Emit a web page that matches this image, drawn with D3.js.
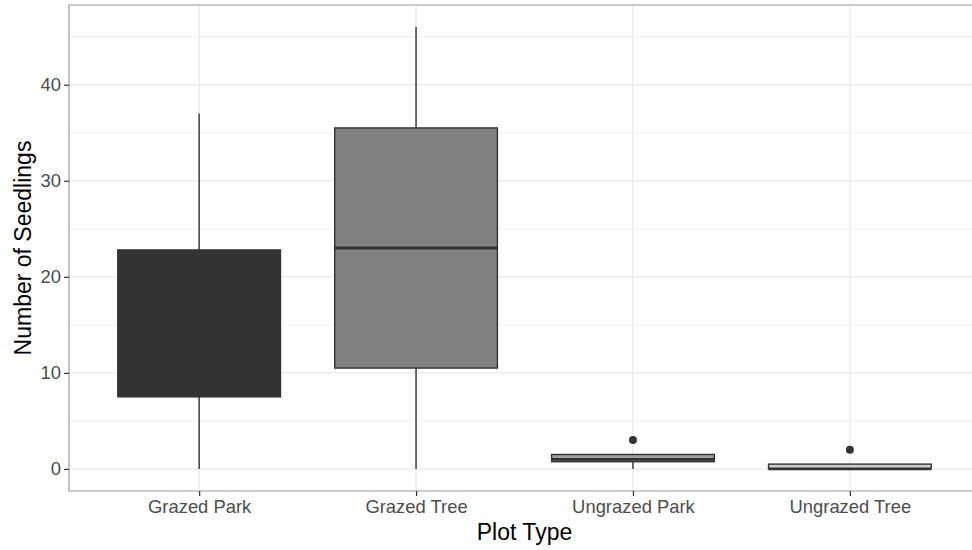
<!DOCTYPE html>
<html lang="en">
<head>
    <meta charset="UTF-8">
    <title>Seedlings by Plot Type</title>
    <script src="https://d3js.org/d3.v7.min.js"></script>
    <style>
        html, body {
            margin: 0;
            overflow: hidden;
            background: #fff;
            font-family: "Liberation Sans", Arial, sans-serif;
        }
        svg {
            display: block;
        }
        .tick text {
            fill: #4d4d4d;
            font-size: 18.4px;
            font-family: "Liberation Sans", Arial, sans-serif;
        }
        .axis-title {
            fill: #000;
            font-size: 23px;
        }
    </style>
</head>
<body>
    <svg id="chart" width="972" height="550"></svg>
    <script>
        // Box statistics
        const categories = ["Grazed Park", "Grazed Tree", "Ungrazed Park", "Ungrazed Tree"];
        const lowerWhisker = [0, 0, 0, 0];
        const q1Values = [7.5, 10.5, 0.75, 0];
        const medians = [15, 23, 1, 0];
        const q3Values = [22.8, 35.5, 1.5, 0.5];
        const upperWhisker = [37, 46, 1.5, 0.5];
        const outliers = [[], [], [3], [2]];
        const yTicks = [0, 10, 20, 30, 40];
        const yMinor = [5, 15, 25, 35, 45];

        const boxes = categories.map((c, i) => ({
            cat: c,
            lo: lowerWhisker[i], q1: q1Values[i], med: medians[i],
            q3: q3Values[i], hi: upperWhisker[i], out: outliers[i]
        }));

        // Panel placement (the right edge runs past the picture)
        const panel = { left: 69, right: 980, top: 5, bottom: 491 };

        const svg = d3.select("#chart");

        // discrete axis with ggplot-style 0.6 expansion each side
        const x = d3.scalePoint()
            .domain(categories)
            .range([panel.left, panel.right])
            .padding(0.6);
        const boxW = x.step() * 0.75;

        const y = d3.scaleLinear()
            .domain([-2.3, 48.3])
            .range([panel.bottom, panel.top]);

        const fill = d3.scaleOrdinal()
            .domain(categories)
            .range(["#333333", "#818181", "#a0a0a0", "#cccccc"]);

        svg.append("clipPath").attr("id", "panelClip")
            .append("rect")
            .attr("x", panel.left).attr("y", panel.top)
            .attr("width", panel.right - panel.left)
            .attr("height", panel.bottom - panel.top);

        const g = svg.append("g").attr("clip-path", "url(#panelClip)");

        // grid
        g.selectAll(".minor").data(yMinor).enter().append("line")
            .attr("x1", panel.left).attr("x2", panel.right)
            .attr("y1", d => y(d)).attr("y2", d => y(d))
            .attr("stroke", "#ebebeb").attr("stroke-width", 0.8);
        g.selectAll(".major").data(yTicks).enter().append("line")
            .attr("x1", panel.left).attr("x2", panel.right)
            .attr("y1", d => y(d)).attr("y2", d => y(d))
            .attr("stroke", "#ebebeb").attr("stroke-width", 1.5);
        g.selectAll(".vmajor").data(categories).enter().append("line")
            .attr("x1", d => x(d)).attr("x2", d => x(d))
            .attr("y1", panel.top).attr("y2", panel.bottom)
            .attr("stroke", "#ebebeb").attr("stroke-width", 1.5);

        // boxplots
        const bx = g.selectAll(".box").data(boxes).enter().append("g");

        bx.append("line")
            .attr("x1", d => x(d.cat)).attr("x2", d => x(d.cat))
            .attr("y1", d => y(d.q3)).attr("y2", d => y(d.hi))
            .attr("stroke", "#333").attr("stroke-width", 1.4);
        bx.append("line")
            .attr("x1", d => x(d.cat)).attr("x2", d => x(d.cat))
            .attr("y1", d => y(d.q1)).attr("y2", d => y(d.lo))
            .attr("stroke", "#333").attr("stroke-width", 1.4);

        bx.append("rect")
            .attr("x", d => x(d.cat) - boxW / 2)
            .attr("width", boxW)
            .attr("y", d => y(d.q3))
            .attr("height", d => y(d.q1) - y(d.q3))
            .attr("fill", d => fill(d.cat))
            .attr("stroke", "#333").attr("stroke-width", 1.4);

        bx.append("line")
            .attr("x1", d => x(d.cat) - boxW / 2).attr("x2", d => x(d.cat) + boxW / 2)
            .attr("y1", d => y(d.med)).attr("y2", d => y(d.med))
            .attr("stroke", "#333").attr("stroke-width", 2.8);

        bx.selectAll("circle").data(d => d.out.map(v => ({ cat: d.cat, v }))).enter()
            .append("circle")
            .attr("cx", d => x(d.cat)).attr("cy", d => y(d.v))
            .attr("r", 4).attr("fill", "#333");

        // panel border: top, left and bottom only (right side is off the picture)
        svg.append("path")
            .attr("d", `M${panel.right},${panel.top}H${panel.left}V${panel.bottom}H${panel.right}`)
            .attr("fill", "none").attr("stroke", "#9a9a9a").attr("stroke-width", 1.2);

        // axes
        const yAxis = svg.append("g")
            .attr("transform", `translate(${panel.left},0)`)
            .call(d3.axisLeft(y).tickValues(yTicks).tickSize(5).tickPadding(3));
        yAxis.select(".domain").remove();
        yAxis.selectAll(".tick line").attr("stroke", "#333").attr("stroke-width", 1.2);

        const xAxis = svg.append("g")
            .attr("transform", `translate(0,${panel.bottom})`)
            .call(d3.axisBottom(x).tickSize(5).tickPadding(4));
        xAxis.select(".domain").remove();
        xAxis.selectAll(".tick line").attr("stroke", "#333").attr("stroke-width", 1.2);

        // axis titles
        svg.append("text")
            .attr("class", "axis-title")
            .attr("x", (panel.left + panel.right) / 2)
            .attr("y", 540)
            .attr("text-anchor", "middle")
            .text("Plot Type");

        svg.append("text")
            .attr("class", "axis-title")
            .attr("transform", `translate(31,${(panel.top + panel.bottom) / 2}) rotate(-90)`)
            .attr("text-anchor", "middle")
            .text("Number of Seedlings");
    </script>
</body>
</html>
